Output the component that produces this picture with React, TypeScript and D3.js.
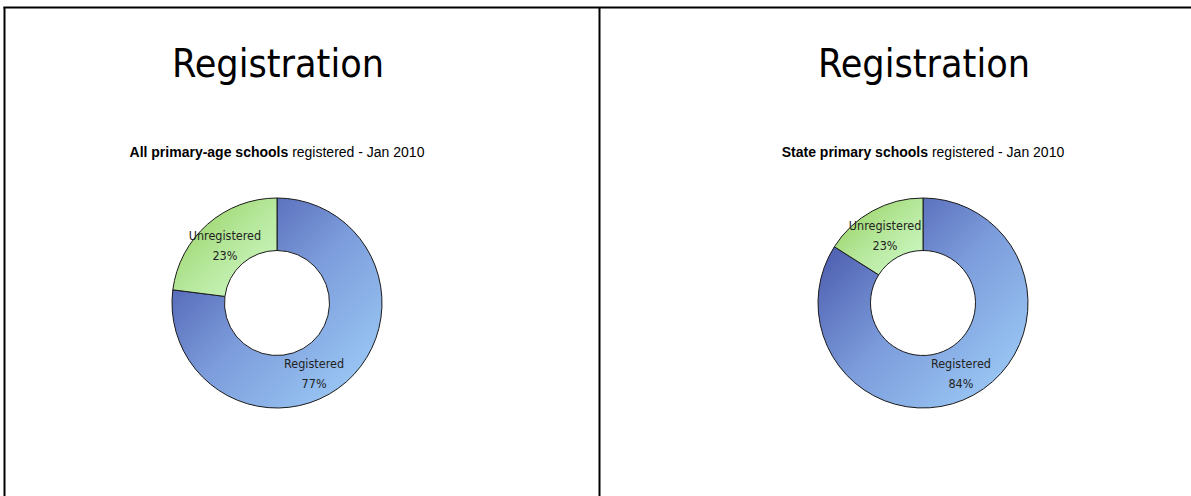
import React from "react";
import * as d3 from "d3";

const categories = ["Registered", "Unregistered"];
const leftValues = [77, 23];
const rightValues = [84, 16];
const leftLabels = ["77%", "23%"];
const rightLabels = ["84%", "23%"];
const chartTitles = ["Registration", "Registration"];
const subtitleBold = ["All primary-age schools", "State primary schools"];
const subtitleRest = [" registered - Jan 2010", " registered - Jan 2010"];

const W = 1191;
const H = 496;

const gradStops: Record<string, [string, string, string]> = {
  Registered: ["#3c47a0", "#7c9cdb", "#a2d3fb"],
  Unregistered: ["#93cc55", "#b5e79a", "#d2fbcc"],
};

function Donut({ idx, cx, cy, values, labels, labelShift }: any) {
  const outerR = 105;
  const innerR = 52.5;
  const pie = d3
    .pie<number>()
    .sort(null)
    .value((d) => d);
  const arcs = pie(values);
  const arc = d3.arc<d3.PieArcDatum<number>>().innerRadius(innerR).outerRadius(outerR);
  return (
    <g>
      <defs>
        {categories.map((c) => (
          <linearGradient key={c} id={`g-${idx}-${c}`} x1="0" y1="0" x2="1" y2="1">
            <stop offset="0%" stopColor={gradStops[c][0]} />
            <stop offset="50%" stopColor={gradStops[c][1]} />
            <stop offset="100%" stopColor={gradStops[c][2]} />
          </linearGradient>
        ))}
      </defs>
      <text
        x={cx + 1}
        y={77}
        textAnchor="middle"
        fontFamily="'DejaVu Sans Condensed', 'DejaVu Sans', sans-serif"
        fontSize={39}
        textLength={212}
        lengthAdjust="spacingAndGlyphs"
        fill="#000"
      >
        {chartTitles[idx]}
      </text>
      <text
        x={cx}
        y={157}
        textAnchor="middle"
        fontFamily="'Liberation Sans', Arial, sans-serif"
        fontSize={14}
        fill="#000"
      >
        <tspan fontWeight="bold">{subtitleBold[idx]}</tspan>
        <tspan>{subtitleRest[idx]}</tspan>
      </text>
      <g transform={`translate(${cx},${cy})`}>
        {arcs.map((a, i) => (
          <path
            key={i}
            d={arc(a) as string}
            fill={`url(#g-${idx}-${categories[i]})`}
            stroke="#1a1a1a"
            strokeWidth={1}
          />
        ))}
        {arcs.map((a, i) => {
          const [cx0, cy0] = arc.centroid(a);
          const sh = (labelShift && labelShift[i]) || [0, 0];
          const lx = cx0 + sh[0];
          const ly = cy0 + sh[1];
          return (
            <text
              key={"l" + i}
              textAnchor="middle"
              fontFamily="'DejaVu Sans Condensed', 'DejaVu Sans', sans-serif"
              fontSize={12.5}
              fill="#222"
            >
              <tspan x={lx} y={ly - 4}>
                {categories[i]}
              </tspan>
              <tspan x={lx} y={ly + 16}>
                {labels[i]}
              </tspan>
            </text>
          );
        })}
      </g>
    </g>
  );
}

export default function App() {
  return (
    <svg
      width={W}
      height={H}
      style={{ position: "absolute", left: 0, top: 0, background: "#fff" }}
    >
      <rect x={0} y={0} width={W} height={H} fill="#fff" />
      <line x1={3.5} y1={7.5} x2={W} y2={7.5} stroke="#000" strokeWidth={2} />
      <line x1={4.5} y1={7} x2={4.5} y2={H} stroke="#000" strokeWidth={2} />
      <line x1={599.5} y1={7} x2={599.5} y2={H} stroke="#000" strokeWidth={2} />
      <Donut
        idx={0}
        cx={277}
        cy={303}
        values={leftValues}
        labels={leftLabels}
        labelShift={[[-15, 10], [0, 0]]}
      />
      <Donut idx={1} cx={923} cy={303} values={rightValues} labels={rightLabels} />
    </svg>
  );
}
